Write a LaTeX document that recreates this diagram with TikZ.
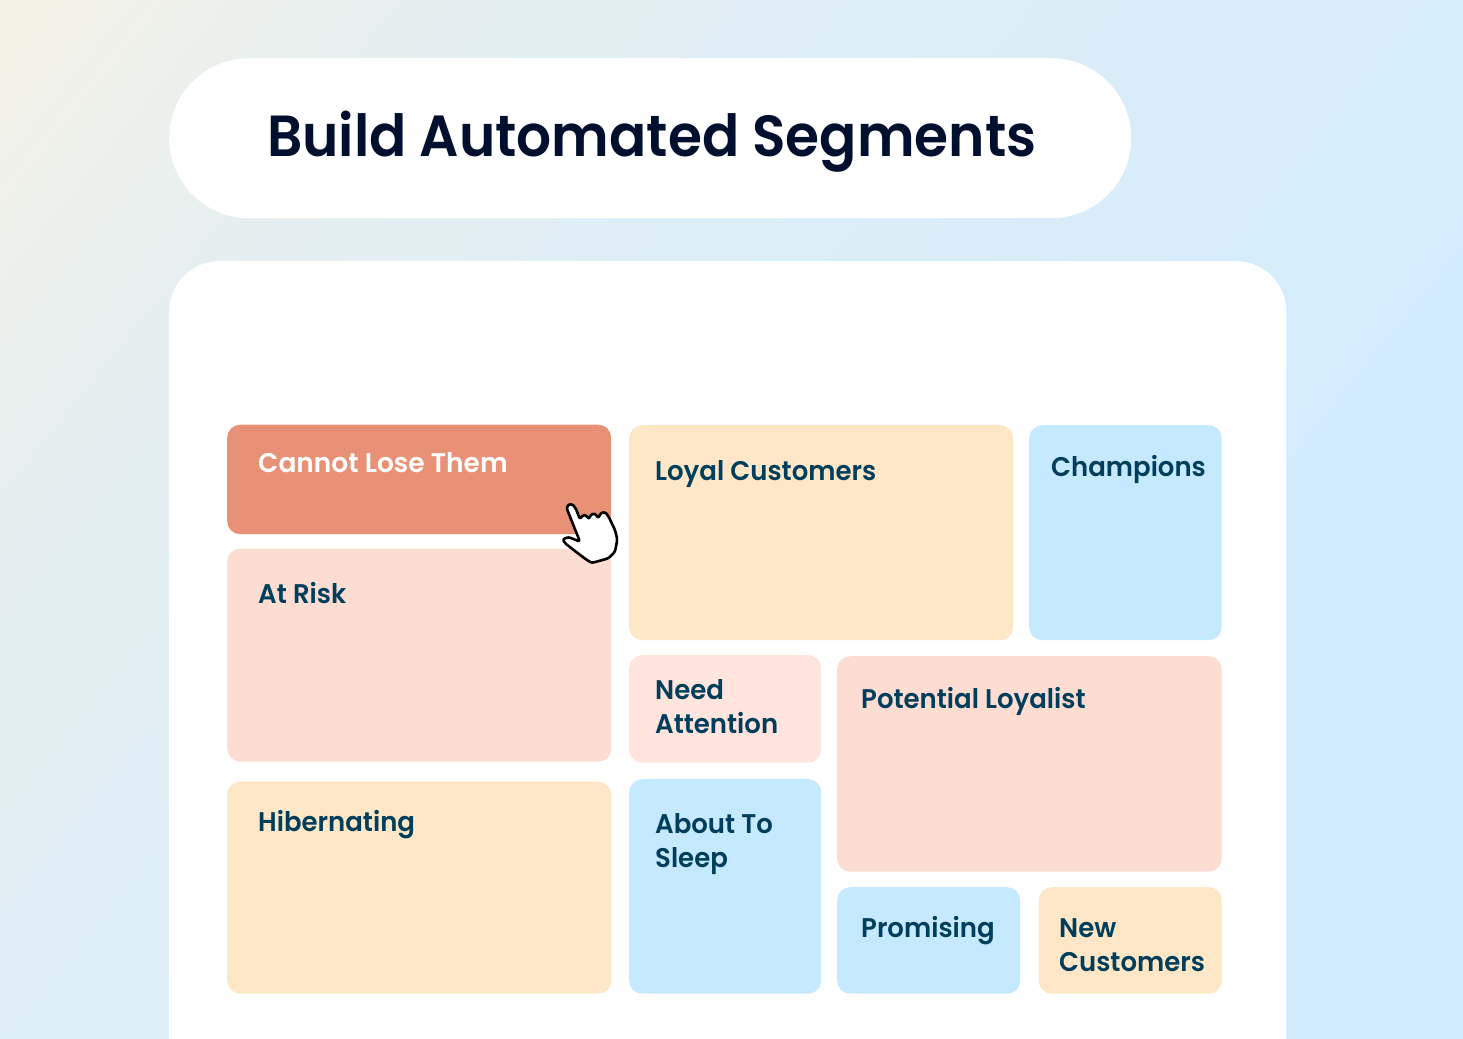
\documentclass[tikz,border=0pt]{standalone}
\usepackage{fontspec}
\setmainfont{Poppins}[BoldFont={* SemiBold},BoldFeatures={FakeStretch=0.962}]
\newfontfamily\titlefont{Poppins SemiBold}[FakeStretch=0.948]
\newfontfamily\whitefont{Poppins SemiBold}[FakeStretch=0.98]
\definecolor{inkTitle}{HTML}{000F2D}
\definecolor{inkLabel}{HTML}{003E5C}
\definecolor{tileRed}{HTML}{E99176}
\definecolor{tilePink}{HTML}{FDDCD2}
\definecolor{tileCream}{HTML}{FEE7C6}
\definecolor{tileBlue}{HTML}{C5E9FE}
\definecolor{tileLight}{HTML}{FFE5DE}
\definecolor{bgA}{HTML}{F4F2E6}
\definecolor{bgB}{HTML}{E6EFF0}
\definecolor{bgC}{HTML}{DDEEF7}
\definecolor{bgD}{HTML}{D3ECFD}
\pgfdeclarehorizontalshading{bgramp}{100bp}{color(0bp)=(bgA); color(25bp)=(bgA); color(34bp)=(bgB); color(45bp)=(bgC); color(62bp)=(bgD); color(100bp)=(bgD)}
\tikzset{
 x=1pt,y=-1pt,
 tile/.style={draw=none,rounded corners=13pt,inner sep=0pt,anchor=north west},
 lbl/.style={inner sep=0pt,anchor=base west,align=left,font=\fontsize{27}{34}\selectfont\bfseries,text=inkLabel},
 ttl/.style={inner sep=0pt,anchor=base west,font=\fontsize{58}{60}\selectfont\titlefont,text=inkTitle},
}
\newcommand{\tilebox}[6]{\node[tile,fill=#6,minimum width=#4pt,minimum height=#5pt] (#1) at (#2,#3) {};}
\begin{document}
\begin{tikzpicture}
\useasboundingbox (0,0) rectangle (1463,1038);
\begin{scope}
\clip (0,0) rectangle (1463,1038);
\shade[shading=bgramp,shading angle=-39] (-164,-376) rectangle (1626,1414);
\end{scope}
\node[fill=white,draw=none,rounded corners=80pt,minimum width=962pt,minimum height=160pt,inner sep=0pt,anchor=north west] (pill) at (169,58) {};
\begin{scope}
\clip (0,0) rectangle (1463,1038);
\node[fill=white,draw=none,rounded corners=50pt,minimum width=1117pt,minimum height=900pt,inner sep=0pt,anchor=north west] (card) at (169,261) {};
\end{scope}
\node[ttl] (title) at (267,156) {Build Automated Segments};
\tilebox{cannot}{227}{424.5}{384}{109.5}{tileRed}
\tilebox{risk}{227}{548.5}{384}{213}{tilePink}
\tilebox{hib}{227}{781.5}{384}{212}{tileCream}
\tilebox{loyal}{629}{425}{384}{215}{tileCream}
\tilebox{champ}{1029}{425}{192.5}{215}{tileBlue}
\tilebox{need}{629}{655}{192}{107.5}{tileLight}
\tilebox{potential}{837}{656}{384.5}{215.5}{tilePink}
\tilebox{about}{629}{779}{192}{214.5}{tileBlue}
\tilebox{promising}{837}{887}{183}{106.5}{tileBlue}
\tilebox{newc}{1038.5}{887}{183}{106.5}{tileCream}
\node[lbl,text=white,font=\fontsize{27}{34}\selectfont\whitefont] (tcannot) at (258,472) {Cannot Lose Them};
\node[lbl] (trisk) at (258,603) {At Risk};
\node[lbl] (thib) at (258,831) {Hibernating};
\node[lbl] (tloyal) at (655,480) {Loyal Customers};
\node[lbl] (tchamp) at (1051,476) {Champions};
\node[lbl] (tneed) at (655,733) {Need\\Attention};
\node[lbl] (tpot) at (861,708) {Potential Loyalist};
\node[lbl] (tabout) at (655,867) {About To\\Sleep};
\node[lbl] (tprom) at (861,937) {Promising};
\node[lbl] (tnew) at (1059,971) {New\\Customers};
\begin{scope}[shift={(540,480)},scale=1/3]
\draw[fill=white,draw=black,line width=2.6pt,line join=round,rounded corners=2.2pt]
 (80,85) -- (84,74) -- (96,72) -- (106,82) -- (120,118) -- (127,106) -- (138,105) -- (147,118)
 -- (153,103) -- (165,100) -- (175,115) -- (182,99) -- (195,96) -- (205,108) -- (225,150) -- (232,178)
 -- (225,215) -- (205,235) -- (155,249) -- (135,236) -- (75,190) -- (68,178) -- (85,171) -- (120,185) -- cycle;
\end{scope}
\end{tikzpicture}
\end{document}
